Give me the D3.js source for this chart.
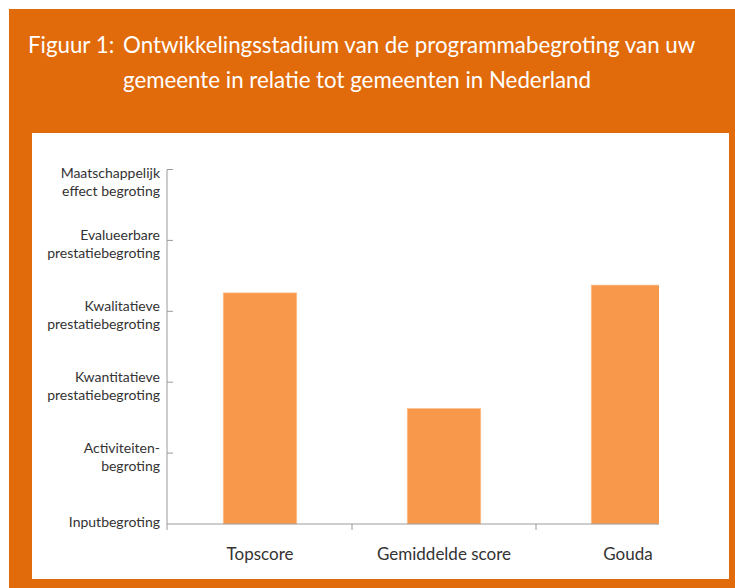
<!DOCTYPE html>
<html>
<head>
<meta charset="utf-8">
<script src="https://cdn.jsdelivr.net/npm/d3@7/dist/d3.min.js"></script>
<style>
  html, body { margin: 0; padding: 0; background: #ffffff; }
  svg { display: block; }
</style>
</head>
<body>
<script>
// ---- data ----
const categories = ["Topscore", "Gemiddelde score", "Gouda"];
const values = [3.26, 1.63, 3.37];
const levelLabels = [
  ["Inputbegroting"],
  ["Activiteiten-", "begroting"],
  ["Kwantitatieve", "prestatiebegroting"],
  ["Kwalitatieve", "prestatiebegroting"],
  ["Evalueerbare", "prestatiebegroting"],
  ["Maatschappelijk", "effect begroting"]
];
const titleLines = ["Figuur 1:", "Ontwikkelingsstadium van de programmabegroting van uw", "gemeente in relatie tot gemeenten in Nederland"];

// ---- layout ----
const W = 735, H = 588;
const orange = "#E16B0B";
const barColor = "#F7984A";
const axisColor = "#9a9a9a";
const textColor = "#333333";
const font = "Lato, 'Open Sans', sans-serif";

const svg = d3.select("body").append("svg").attr("width", W).attr("height", H);

svg.append("rect").attr("x", 0).attr("y", 0).attr("width", W).attr("height", H).attr("fill", "#ffffff");
svg.append("rect").attr("x", 9).attr("y", 9).attr("width", W - 9).attr("height", H - 9).attr("fill", orange);
svg.append("rect").attr("x", 32).attr("y", 133).attr("width", 729 - 32).attr("height", 579 - 133).attr("fill", "#ffffff");

// title
const tg = svg.append("g").attr("fill", "#ffffff").style("font-family", font).style("font-size", "22.3px");
tg.append("text").attr("x", 28).attr("y", 53).text(titleLines[0]);
tg.append("text").attr("x", 123).attr("y", 53).text(titleLines[1]);
tg.append("text").attr("x", 123).attr("y", 88).text(titleLines[2]);

// scales
const x0 = 167, xEnd = 659;
const y = d3.scaleLinear().domain([0, 5]).range([524, 169.5]);
const x = d3.scaleBand().domain(categories).range([168, 720]).paddingInner(0.6).paddingOuter(0.3);

// clip
svg.append("clipPath").attr("id", "plotclip")
  .append("rect").attr("x", x0).attr("y", 100).attr("width", xEnd - x0).attr("height", 500);

// bars
svg.append("g").attr("clip-path", "url(#plotclip)")
  .selectAll("rect").data(categories).join("rect")
  .attr("x", d => x(d))
  .attr("y", (d, i) => y(values[i]))
  .attr("width", x.bandwidth())
  .attr("height", (d, i) => y(0) - y(values[i]))
  .attr("fill", barColor)
  .attr("stroke", "#fbc79b")
  .attr("stroke-width", 0.6);

// y axis
const yAxis = svg.append("g");
yAxis.append("line").attr("x1", x0).attr("x2", x0).attr("y1", y(5)).attr("y2", y(0) + 6)
  .attr("stroke", axisColor).attr("stroke-width", 1);
yAxis.selectAll("line.tick").data(d3.range(1, 6)).join("line").attr("class", "tick")
  .attr("x1", x0).attr("x2", x0 + 6).attr("y1", d => y(d)).attr("y2", d => y(d))
  .attr("stroke", axisColor).attr("stroke-width", 1);

const ylab = yAxis.selectAll("text").data(levelLabels).join("text")
  .attr("text-anchor", "end")
  .attr("fill", textColor)
  .style("font-family", font).style("font-size", "14px");
ylab.each(function(lines, i) {
  const t = d3.select(this);
  let base;
  if (lines.length === 1) base = y(i) + 3;
  else if (i === 5) base = y(i) + 8;
  else base = y(i) + 0;
  lines.forEach((ln, j) => {
    t.append("tspan").attr("x", 160).attr("y", base + j * 18).text(ln);
  });
});

// x axis
const xAxis = svg.append("g");
xAxis.append("line").attr("x1", x0).attr("x2", xEnd).attr("y1", y(0)).attr("y2", y(0))
  .attr("stroke", axisColor).attr("stroke-width", 1);
const step = x.step();
xAxis.selectAll("line.tick").data(categories.slice(1)).join("line").attr("class", "tick")
  .attr("x1", d => x(d) - (step - x.bandwidth()) / 2).attr("x2", d => x(d) - (step - x.bandwidth()) / 2)
  .attr("y1", y(0)).attr("y2", y(0) + 6)
  .attr("stroke", axisColor).attr("stroke-width", 1);
xAxis.selectAll("text").data(categories).join("text")
  .attr("x", d => x(d) + x.bandwidth() / 2)
  .attr("y", 560)
  .attr("text-anchor", "middle")
  .attr("fill", textColor)
  .style("font-family", font).style("font-size", "17px")
  .text(d => d);
</script>
</body>
</html>
